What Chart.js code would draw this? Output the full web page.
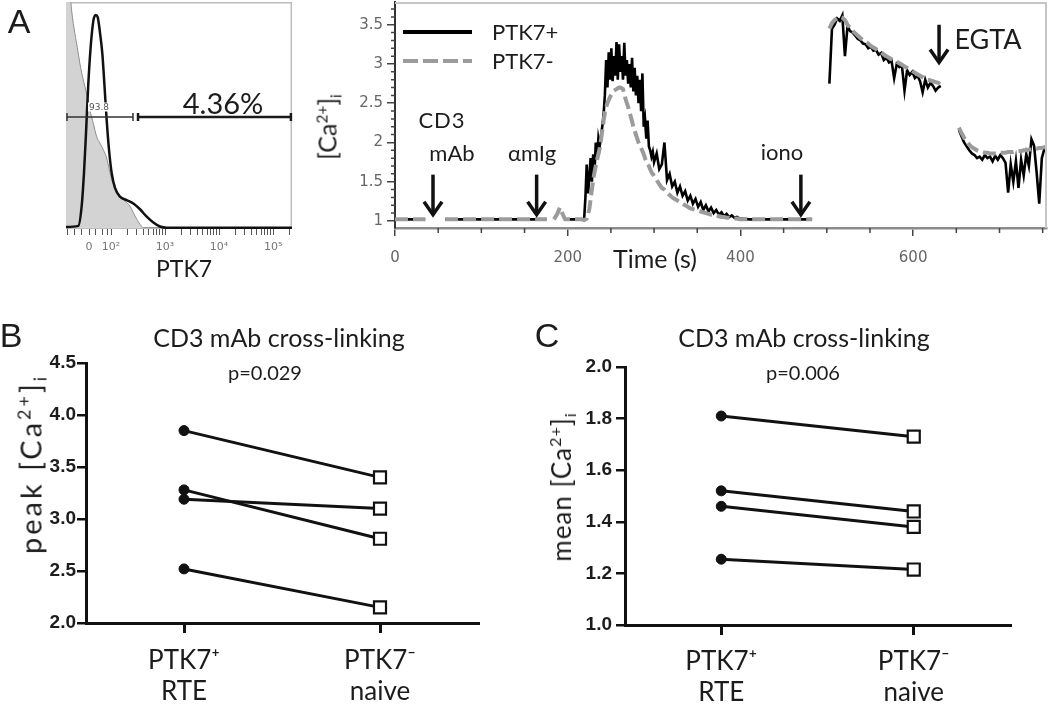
<!DOCTYPE html>
<html><head><meta charset="utf-8"><title>PTK7 calcium flux</title>
<script src="https://cdn.jsdelivr.net/npm/chart.js@4.4.1/dist/chart.umd.min.js"></script>
<style>
html,body{margin:0;padding:0;background:#fff}
#fig{position:relative;width:1050px;height:707px;overflow:hidden;background:#fff;font-family:Lato,"Open Sans",sans-serif;color:#1c1c1c}
#fig canvas{position:absolute}
.t{position:absolute;white-space:nowrap;line-height:1;transform:translate(-50%,-50%)}
.l{position:absolute;white-space:nowrap;line-height:1;transform:translateY(-50%)}
.r{position:absolute;white-space:nowrap;line-height:1;transform:translate(-50%,-50%) rotate(-90deg)}
sup{font-size:62%;vertical-align:0.6em;line-height:0}
sub{font-size:62%;vertical-align:-0.3em;line-height:0}
.pl{font-family:"Liberation Sans",Arial,sans-serif;font-size:34px}
</style></head>
<body><div id="fig">
<canvas id="hist" width="300" height="290" style="left:0;top:0"></canvas>
<canvas id="calc" width="750" height="290" style="left:300px;top:0"></canvas>
<canvas id="peak" width="520" height="417" style="left:0;top:290px"></canvas>
<canvas id="mean" width="530" height="417" style="left:520px;top:290px"></canvas>

<div class="t pl" style="left:19px;top:21px">A</div>
<div class="t pl" style="left:11px;top:335px">B</div>
<div class="t pl" style="left:547px;top:335px">C</div>

<div class="t" style="left:184px;top:268px;font-size:23px">PTK7</div>
<div class="t" style="left:99px;top:107px;font-size:9px;font-family:'DejaVu Sans';color:#555;background:#fff;padding:0 1px">93.8</div>
<div class="t" style="left:223px;top:102px;font-size:29px">4.36%</div>

<div class="r" style="left:327px;top:127px;font-size:25px">[Ca<sup>2+</sup>]<sub>i</sub></div>
<div style="position:absolute;left:403px;top:30px;width:69px;height:4px;background:#000"></div>
<div style="position:absolute;left:403px;top:59px;width:69px;height:4px;background:repeating-linear-gradient(90deg,#9b9b9b 0 15px,transparent 15px 20px)"></div>
<div class="l" style="left:492px;top:32px;font-size:22px">PTK7+</div>
<div class="l" style="left:492px;top:61px;font-size:22px">PTK7-</div>
<div class="t" style="left:442px;top:120px;font-size:22px;letter-spacing:1px">CD3</div>
<div class="t" style="left:452px;top:153px;font-size:22px">mAb</div>
<div class="t" style="left:532px;top:153px;font-size:22px">αmIg</div>
<div class="t" style="left:782px;top:152px;font-size:22px">iono</div>
<div class="t" style="left:988px;top:38px;font-size:27px">EGTA</div>
<div class="t" style="left:655px;top:258px;font-size:25px">Time (s)</div>

<div class="t" style="left:279px;top:337px;font-size:25px">CD3 mAb cross-linking</div>
<div class="t" style="left:265px;top:372px;font-size:20px">p=0.029</div>
<div class="r" style="left:30px;top:464px;font-size:29px;letter-spacing:3px">peak [Ca<sup>2+</sup>]<sub>i</sub></div>

<div class="t" style="left:804px;top:337px;font-size:25px">CD3 mAb cross-linking</div>
<div class="t" style="left:803px;top:372px;font-size:20px">p=0.006</div>
<div class="r" style="left:561px;top:487px;font-size:26px;letter-spacing:1px">mean [Ca<sup>2+</sup>]<sub>i</sub></div>
</div>

<script>
// ---------- Panel A (left): PTK7 histogram ----------
const histGrayX  = [1.167,1.241,1.272,1.333,1.376,1.426,1.475,1.519,1.561,1.611,1.673,1.735,1.796,1.858,1.920,1.969,2.012,2.074,2.167,2.259,2.352,2.444,2.537,2.599,5.35];
const histGrayY  = [104,104,96.5,86.2,80.3,72.9,67.0,62.6,58.2,52.3,46.4,40.5,37.6,34.7,31.0,25.8,21.4,17.7,14.0,11.8,9.6,5.2,1.5,0,0];
const histBlackX = [1.167,1.395,1.457,1.5,1.537,1.580,1.623,1.673,1.716,1.753,1.796,1.840,1.877,1.920,1.963,2.012,2.074,2.167,2.290,2.414,2.537,2.661,2.784,2.907,3.031,5.35];
const histBlackY = [0.3,0.8,9.6,24.4,42.0,64.1,80.3,92.1,94.7,93.8,86.9,77.4,64.1,47.9,34.7,24.4,17.7,13.8,12.3,10.8,8.2,4.9,2.3,0.5,0,0];
const histMajorPos = [1.593,2,3,4,5];
const histMajorLbl = ['0','10²','10³','10⁴','10⁵'];
const histLinMinor = [1.2,1.33,1.46,1.72,1.84,1.93];
const histGateLevel = 49.3;
const histGates = [[1.185,2.407],[2.5,5.33]];

// ---------- Panel A (right): calcium trace ----------
const caTime = [0,12,24,35,46,58,75,95,115,135,155,176,180,184,188,191,194,197,203,209,214,216,
219,220.5,222,223.5,225,226.5,228,229.5,231,232.5,
234,235.5,237,238.5,240,241.5,243,244.5,246,247.5,
249,250.5,252,253.5,255,256.5,258,259.5,261,262.5,
264,265.5,267,268.5,270,271.5,273,274.5,276,277.5,
279,280.5,282,283.5,285,286.5,288,289.5,291,292.5,
294,295.5,297,298.5,300,
303,306,309,312,315,318,321,324,327,330,333,336,339,342,345,348,351,354,357,360,363,366,369,372,375,378,381,384,387,390,393,396,399,
410,425,440,455,470,483,493,
503,506,509,512,515,518,521,524,527,530,533,536,539,542,545,548,551,554,557,560,563,566,569,572,575,578,581,584,587,590,593,596,599,602,605,608,611,614,617,620,623,626,629,632,
642,
653,656,659,662,665,668,671,674,677,680,683,686,689,692,695,698,701,704,707,710,713,716,719,722,725,728,731,734,737,740,743,746,749,752,755];
const caPos = [1.02,1.02,1.02,1.02,null,1.02,1.02,1.02,1.02,1.02,1.02,1.02,null,null,null,null,null,1.02,1.02,1.02,1.02,1.02,
1.02,1.30,1.72,1.35,1.55,1.80,1.50,1.85,1.62,2.00,
1.80,2.05,1.95,2.08,2.20,2.35,2.60,3.05,2.70,3.15,
2.80,3.20,2.78,3.10,2.85,3.28,2.80,3.25,2.90,3.10,
2.80,3.27,2.85,3.05,2.75,3.00,2.70,3.08,2.65,2.95,
2.60,2.85,2.50,2.80,2.40,2.88,2.20,2.30,2.05,2.28,
1.95,1.90,1.82,1.88,1.75,
1.86,1.66,1.72,2.00,1.52,1.60,1.44,1.50,1.36,1.44,1.32,1.38,1.26,1.32,1.22,1.28,1.18,1.24,1.14,1.20,1.12,1.17,1.10,1.14,1.08,1.11,1.06,1.09,1.05,1.07,1.04,1.05,1.03,
1.02,1.02,1.02,1.02,1.02,1.02,null,
2.75,3.45,3.50,3.58,3.55,3.62,3.10,3.48,3.42,3.40,
3.36,3.32,3.30,3.26,3.25,3.20,3.22,3.17,3.18,3.12,
3.14,3.05,3.08,3.02,3.04,2.82,3.00,2.96,2.98,2.66,
2.92,2.86,2.90,2.82,2.85,2.78,2.64,2.80,2.70,2.76,
2.72,2.66,2.70,2.72,
null,
2.16,2.08,2.00,1.95,1.90,1.86,1.84,1.80,1.82,1.78,
1.84,1.80,1.82,1.76,1.83,1.78,1.84,1.80,1.74,1.36,
1.72,1.50,1.76,1.42,1.78,1.58,1.85,1.70,2.04,1.96,
1.62,1.22,1.80,1.92,1.88];
const caNeg = [1.02,1.02,1.02,1.02,null,1.02,1.02,1.02,1.02,1.02,1.02,1.02,null,1.02,1.09,1.17,1.09,1.02,1.02,1.02,1.02,1.02,
1.01,1.02,1.03,1.08,1.15,1.27,1.40,1.52,1.62,1.70,
1.78,1.85,1.92,2.03,2.15,2.27,2.38,2.45,2.50,2.54,
2.58,2.61,2.64,2.66,2.67,2.68,2.69,2.70,2.70,2.69,
2.68,2.62,2.55,2.50,2.45,2.39,2.33,2.27,2.20,2.15,
2.10,2.05,2.00,1.96,1.93,1.89,1.85,1.80,1.76,1.73,
1.70,1.66,1.62,1.60,1.57,
1.52,1.47,1.42,1.40,1.36,1.33,1.30,1.28,1.26,1.24,1.22,1.20,1.18,1.16,1.15,1.14,1.13,1.12,1.11,1.10,1.09,1.08,1.08,1.07,1.06,1.05,1.05,1.04,1.04,1.03,1.03,1.03,1.02,
1.02,1.02,1.02,1.02,1.02,1.02,null,
3.45,3.52,3.56,3.58,3.60,3.59,3.56,3.50,3.46,3.42,
3.39,3.36,3.33,3.30,3.28,3.26,3.23,3.21,3.19,3.17,
3.15,3.12,3.10,3.08,3.06,3.04,3.03,3.01,2.99,2.97,
2.95,2.93,2.91,2.89,2.87,2.85,2.83,2.81,2.80,2.79,
2.78,2.77,2.76,2.74,
null,
2.19,2.12,2.06,2.01,1.97,1.94,1.92,1.90,1.89,1.88,
1.87,1.87,1.86,1.86,1.86,1.86,1.87,1.87,1.87,1.88,
1.88,1.88,1.89,1.89,1.89,1.90,1.90,1.91,1.91,1.92,
1.92,1.93,1.93,1.94,1.94];
const caMajorX = [0,200,400,600];
const caMinorX = [50,100,150,250,300,350,450,500,550,650,700,750];
const caMajorY = [1,1.5,2,2.5,3,3.5];
const caMinorY = [1.1,1.2,1.3,1.4,1.6,1.7,1.8,1.9,2.1,2.2,2.3,2.4,2.6,2.7,2.8,2.9,3.1,3.2,3.3,3.4,3.6,3.7];
// stimulus additions: time (s), arrow tail and tip levels
const stimTime = [44,164,470,630];
const stimTail = [1.59,1.59,1.59,3.50];
const stimTip  = [1.08,1.08,1.08,3.02];

// ---------- Panels B and C ----------
const groupLabels = [['PTK7⁺','RTE'],['PTK7⁻','naive']];
const peakRTE   = [3.85,3.28,3.19,2.52];
const peakNaive = [3.40,2.81,3.10,2.15];
const meanRTE   = [1.81,1.52,1.46,1.255];
const meanNaive = [1.73,1.44,1.38,1.215];

const FONT = 'Lato, "Open Sans", sans-serif';
function zeroPad(s){ s.paddingLeft = 0; s.paddingRight = 0; s.paddingTop = 0; s.paddingBottom = 0; }

// ----- histogram -----
const histDecor = {
  id:'histDecor',
  beforeDatasetsDraw(chart){
    const {ctx, chartArea:a} = chart;
    ctx.save();
    ctx.strokeStyle = '#bdbdbd'; ctx.lineWidth = 1.5;
    ctx.strokeRect(a.left+0.75, a.top+0.75, a.right-a.left-1.5, a.bottom-a.top-1.5);
    ctx.restore();
  },
  afterDatasetsDraw(chart){
    const {ctx, scales:{x,y}} = chart;
    const gy = y.getPixelForValue(histGateLevel);
    ctx.save();
    histGates.forEach(([g0,g1],i)=>{
      const x0 = x.getPixelForValue(g0), x1 = x.getPixelForValue(g1);
      ctx.strokeStyle = i ? '#1a1a1a' : '#333';
      ctx.lineWidth = i ? 2.5 : 1.5;
      ctx.beginPath();
      ctx.moveTo(x0,gy); ctx.lineTo(x1,gy);
      ctx.moveTo(x0,gy-4); ctx.lineTo(x0,gy+4);
      ctx.moveTo(x1,gy-4); ctx.lineTo(x1,gy+4);
      ctx.stroke();
    });
    ctx.restore();
  }
};
const histTicks = [...histLinMinor, ...histMajorPos];
[2,3,4].forEach(d=>[2,3,4,5,6,7,8,9].forEach(m=>histTicks.push(d+Math.log10(m))));
histTicks.push(5+Math.log10(2));
histTicks.sort((a,b)=>a-b);

new Chart(document.getElementById('hist'), {
  type:'line',
  data:{datasets:[
    {data:histBlackX.map((x,i)=>({x, y:histBlackY[i]})), borderColor:'#111', borderWidth:2.5, pointRadius:0, fill:false, cubicInterpolationMode:'monotone', order:0},
    {data:histGrayX.map((x,i)=>({x, y:histGrayY[i]})), borderColor:'#8e8e8e', borderWidth:1, backgroundColor:'#d3d3d3', fill:'origin', pointRadius:0, cubicInterpolationMode:'monotone', order:1}
  ]},
  options:{
    responsive:false, animation:false, events:[],
    layout:{padding:{left:66, right:8, top:2, bottom:0}},
    plugins:{legend:{display:false}, tooltip:{enabled:false}},
    scales:{
      x:{type:'linear', min:1.167, max:5.35,
        border:{display:false},
        grid:{drawOnChartArea:false, tickLength:6, tickColor:'#555', lineWidth:1},
        ticks:{autoSkip:false, maxRotation:0, padding:6, color:'#777', font:{family:'"DejaVu Sans"', size:11},
          callback:(v)=>{ const i = histMajorPos.findIndex(p=>Math.abs(p-v)<1e-6); return i>=0 ? histMajorLbl[i] : ''; }},
        afterBuildTicks:(s)=>{ s.ticks = histTicks.map(v=>({value:v})); },
        afterFit:(s)=>{ s.height = 61; zeroPad(s); }
      },
      y:{display:false, min:-0.6, max:100.5}
    }
  },
  plugins:[histDecor]
});

// ----- calcium trace -----
const caDecor = {
  id:'caDecor',
  afterDraw(chart){
    const {ctx, chartArea:a, scales:{x,y}} = chart;
    ctx.save();
    ctx.strokeStyle = '#c6c6c6'; ctx.lineWidth = 2;
    ctx.beginPath(); ctx.moveTo(a.left, a.top+1); ctx.lineTo(a.right-1, a.top+1); ctx.lineTo(a.right-1, a.bottom); ctx.stroke();
    ctx.strokeStyle = '#444'; ctx.lineWidth = 1.5;
    ctx.beginPath();
    caMinorY.forEach(v=>{ const py = y.getPixelForValue(v); ctx.moveTo(a.left-4, py); ctx.lineTo(a.left, py); });
    caMinorX.forEach(v=>{ const px = x.getPixelForValue(v); ctx.moveTo(px, a.bottom); ctx.lineTo(px, a.bottom+5); });
    ctx.stroke();
    ctx.strokeStyle = '#111'; ctx.lineWidth = 3.5; ctx.lineCap = 'butt'; ctx.lineJoin = 'miter';
    stimTime.forEach((t,i)=>{
      const px = x.getPixelForValue(t), p0 = y.getPixelForValue(stimTail[i]), p1 = y.getPixelForValue(stimTip[i]);
      ctx.beginPath(); ctx.moveTo(px, p0); ctx.lineTo(px, p1-2); ctx.stroke();
      ctx.beginPath(); ctx.moveTo(px-9, p1-13); ctx.lineTo(px, p1); ctx.lineTo(px+9, p1-13); ctx.stroke();
    });
    ctx.restore();
  }
};
new Chart(document.getElementById('calc'), {
  type:'line',
  data:{datasets:[
    {label:'PTK7-', data:caTime.map((t,i)=>({x:t, y:caNeg[i]})), borderColor:'#9b9b9b', borderWidth:4, borderDash:[13,5], pointRadius:0, spanGaps:false, order:0},
    {label:'PTK7+', data:caTime.map((t,i)=>({x:t, y:caPos[i]})), borderColor:'#000', borderWidth:2.6, pointRadius:0, spanGaps:false, order:1}
  ]},
  options:{
    responsive:false, animation:false, events:[],
    layout:{padding:{left:0, right:3, top:2, bottom:0}},
    plugins:{legend:{display:false}, tooltip:{enabled:false}},
    scales:{
      x:{type:'linear', min:0, max:755,
        border:{color:'#8c8c8c', width:2.5},
        grid:{drawOnChartArea:false, tickLength:8, tickColor:'#444', lineWidth:1.5},
        ticks:{autoSkip:false, maxRotation:0, padding:13, color:'#666', font:{family:'"DejaVu Sans"', size:15}},
        afterBuildTicks:(s)=>{ s.ticks = caMajorX.map(v=>({value:v})); },
        afterFit:(s)=>{ s.height = 62; zeroPad(s); }
      },
      y:{min:0.91, max:3.79,
        border:{color:'#333', width:2},
        grid:{drawOnChartArea:false, tickLength:8, tickColor:'#444', lineWidth:1.5},
        ticks:{padding:4, color:'#666', font:{family:'"DejaVu Sans"', size:15}, callback:(v)=>String(v)},
        afterBuildTicks:(s)=>{ s.ticks = caMajorY.map(v=>({value:v})); },
        afterFit:(s)=>{ s.width = 95; zeroPad(s); }
      }
    }
  },
  plugins:[caDecor]
});

// ----- paired plots -----
function pairedChart(id, rte, naive, yMin, yMax, yStep, box){
  return new Chart(document.getElementById(id), {
    type:'line',
    data:{labels:groupLabels, datasets:rte.map((v,i)=>({
      data:[v, naive[i]], borderColor:'#111', borderWidth:3, tension:0, clip:false,
      pointStyle:['circle','rect'], pointRadius:[5,8.5], pointBorderWidth:[1,2.2],
      pointBackgroundColor:['#111','#fff'], pointBorderColor:'#111'
    }))},
    options:{
      responsive:false, animation:false, events:[],
      layout:{padding:{left:0, top:box.top, right:box.right, bottom:0}},
      plugins:{legend:{display:false}, tooltip:{enabled:false}},
      scales:{
        x:{offset:true,
          border:{color:'#111', width:3},
          grid:{drawOnChartArea:false, tickLength:10, tickColor:'#111', lineWidth:3},
          ticks:{autoSkip:false, maxRotation:0, padding:box.xPad, color:'#1c1c1c', font:{family:FONT, size:26, lineHeight:1.2}},
          afterFit:(s)=>{ s.height = box.xh; zeroPad(s); }
        },
        y:{min:yMin, max:yMax,
          border:{color:'#111', width:3},
          grid:{drawOnChartArea:false, tickLength:9, tickColor:'#111', lineWidth:2.5},
          ticks:{stepSize:yStep, padding:box.yPad, color:'#1c1c1c', font:{family:'"Liberation Sans", Arial, sans-serif', size:19, weight:'bold'}, callback:(v)=>v.toFixed(1)},
          afterFit:(s)=>{ s.width = box.yw; zeroPad(s); }
        }
      }
    }
  });
}
pairedChart('peak', peakRTE, peakNaive, 2, 4.5, 0.5, {top:73, right:42, xh:84, yw:86, xPad:12, yPad:1});
pairedChart('mean', meanRTE, meanNaive, 1, 2, 0.2, {top:77, right:40, xh:82, yw:105, xPad:11, yPad:4});
</script>
</body></html>
